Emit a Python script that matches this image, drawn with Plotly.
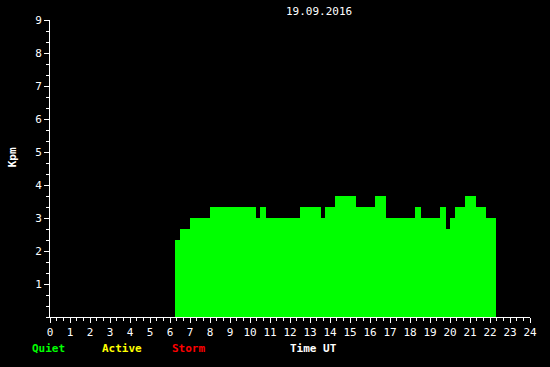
import plotly.graph_objects as go

# Segment start times (hours UT), last end time, and Kpm values
seg_start = [6.25, 6.5, 7.0, 8.0, 10.3, 10.5, 10.8, 12.5, 13.55, 13.75, 14.25, 15.3,
             16.25, 16.8, 18.25, 18.55, 19.5, 19.8, 20.0, 20.25, 20.75, 21.3, 21.8]
last_end = 22.3
kpm = [2.33, 2.67, 3.0, 3.33, 3.0, 3.33, 3.0, 3.33, 3.0, 3.33, 3.67, 3.33,
       3.67, 3.0, 3.33, 3.0, 3.33, 2.67, 3.0, 3.33, 3.67, 3.33, 3.0]

x_ticks = list(range(0, 25))
y_ticks = list(range(1, 10))
title_text = "19.09.2016"

xs = seg_start + [last_end]
ys = kpm + [kpm[-1]]

FONT = "DejaVu Sans Mono"

fig = go.Figure()
fig.add_trace(go.Scatter(
    x=xs, y=ys, mode="lines", line=dict(shape="hv", width=0, color="#00ff00"),
    fill="tozeroy", fillcolor="#00ff00", hoverinfo="skip", showlegend=False))

fig.update_layout(
    width=550, height=367,
    margin=dict(l=50, r=20, t=20, b=50),
    paper_bgcolor="#000000", plot_bgcolor="#000000",
    font=dict(family=FONT, color="white", size=10),
    showlegend=False,
    xaxis=dict(range=[0, 24], tickvals=x_ticks, ticks="outside", ticklen=5,
               tickcolor="white", showline=True, linecolor="white", linewidth=1,
               showgrid=False, zeroline=False,
               tickfont=dict(family=FONT, size=11, color="white"),
               minor=dict(dtick=1/3, ticks="outside", ticklen=3, tickcolor="white",
                          showgrid=False)),
    yaxis=dict(range=[0, 9], tickvals=y_ticks, ticks="outside", ticklen=5,
               tickcolor="white", showline=True, linecolor="white", linewidth=1,
               showgrid=False, zeroline=False,
               tickfont=dict(family=FONT, size=11, color="white"),
               minor=dict(dtick=1/3, ticks="outside", ticklen=3, tickcolor="white",
                          showgrid=False)),
)

ann = [
    dict(text=title_text, x=0.560, y=1.028, xanchor="center", yanchor="middle",
         font=dict(family=FONT, size=11, color="white")),
    dict(text="<b>Kpm</b>", x=-0.078, y=0.536, textangle=-90, xanchor="center",
         yanchor="middle", font=dict(family=FONT, size=11, color="white")),
    dict(text="<b>Quiet</b>", x=-0.0417, y=-0.107, xanchor="left", yanchor="middle",
         font=dict(family=FONT, size=11, color="#00ff00")),
    dict(text="<b>Active</b>", x=0.104, y=-0.107, xanchor="left", yanchor="middle",
         font=dict(family=FONT, size=11, color="#ffff00")),
    dict(text="<b>Storm</b>", x=0.25, y=-0.107, xanchor="left", yanchor="middle",
         font=dict(family=FONT, size=11, color="#ff0000")),
    dict(text="<b>Time UT</b>", x=0.548, y=-0.107, xanchor="center", yanchor="middle",
         font=dict(family=FONT, size=11, color="white")),
]
for a in ann:
    a.update(xref="paper", yref="paper", showarrow=False)
    fig.add_annotation(**a)

fig.write_html("out.html")
